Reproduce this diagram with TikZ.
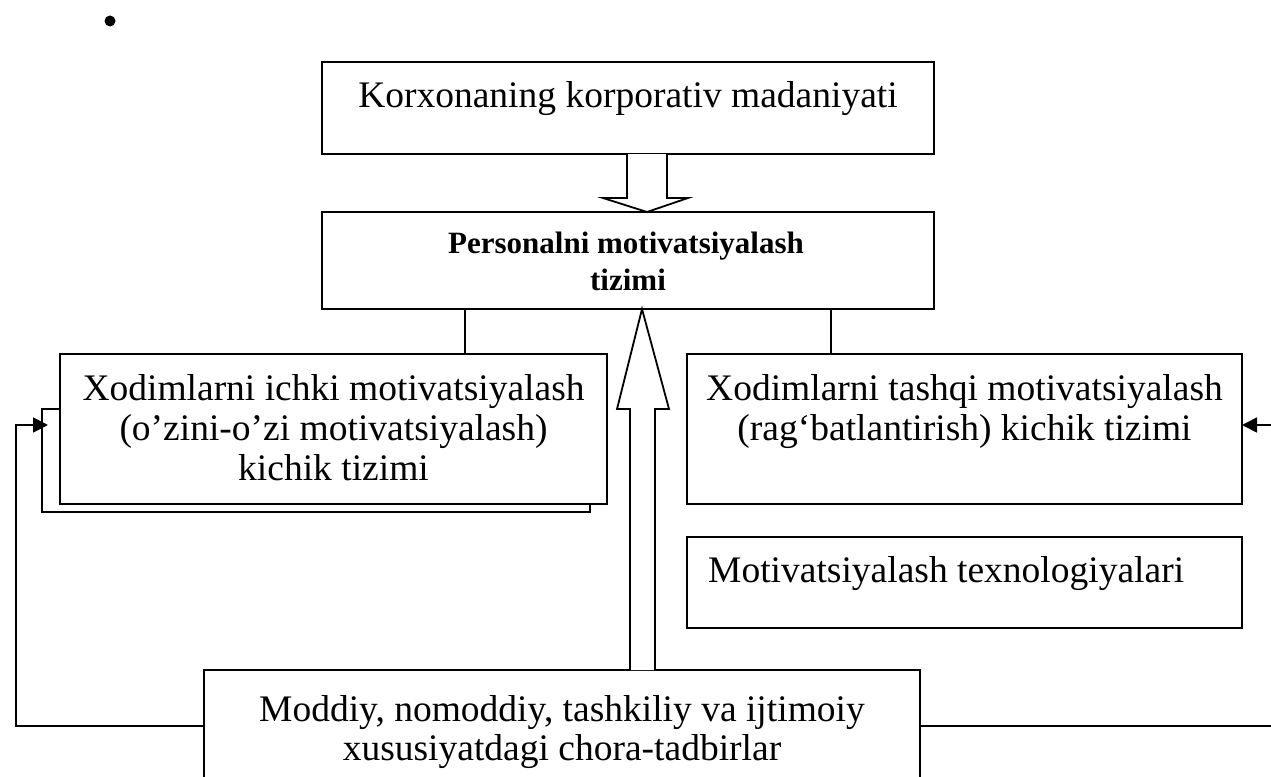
\documentclass[tikz,border=0pt]{standalone}
\usepackage{fontspec}
\setmainfont{Liberation Serif}
\usetikzlibrary{arrows.meta}
\begin{document}
\begin{tikzpicture}[x=1pt,y=-1pt,
  box/.style={draw,line width=1.8pt,fill=white,inner sep=0pt,outer sep=0pt},
  conn/.style={line width=1.8pt},
  flow/.style={line width=1.8pt,-{Triangle[length=15pt,width=15pt]}},
  blockarrow/.style={line width=1.8pt,fill=white,line join=miter},
  txt/.style={inner sep=0pt,anchor=base,font=\fontsize{37.5}{40}\selectfont},
  boldtxt/.style={inner sep=0pt,anchor=base,font=\fontsize{31}{34}\selectfont\bfseries}]
\useasboundingbox (0,0) rectangle (1271,776);
\clip (0,0) rectangle (1271,776);

% bullet mark
\node[circle,fill,inner sep=0pt,minimum size=11pt] (bullet) at (110,21) {};

% boxes
\node[box,minimum width=612pt,minimum height=92pt] (culture) at (628,108) {};
\node[box,minimum width=612pt,minimum height=97pt] (system) at (628,260.5) {};
\node[box,minimum width=548pt,minimum height=103pt] (innerback) at (316,460.5) {};
\node[box,minimum width=547pt,minimum height=150pt] (inner) at (333.5,429) {};
\node[box,minimum width=555pt,minimum height=150pt] (outer) at (964.5,429) {};
\node[box,minimum width=555pt,minimum height=91pt] (tech) at (964.5,582.5) {};
\node[box,minimum width=716pt,minimum height=130pt] (measures) at (562,735) {};

% texts
\node[txt] (t1) at (628,107) {Korxonaning korporativ madaniyati};
\node[boldtxt] (t2a) at (626,253) {Personalni motivatsiyalash};
\node[boldtxt] (t2b) at (628,290) {tizimi};
\node[txt] (t3a) at (333.5,400) {Xodimlarni ichki motivatsiyalash};
\node[txt] (t3b) at (333.5,440) {(o’zini-o’zi motivatsiyalash)};
\node[txt] (t3c) at (333.5,480) {kichik tizimi};
\node[txt] (t4a) at (964.5,400) {Xodimlarni tashqi motivatsiyalash};
\node[txt] (t4b) at (964.5,440) {(rag‘batlantirish) kichik tizimi};
\node[txt,anchor=base west] (t5) at (708,582) {Motivatsiyalash texnologiyalari};
\node[txt] (t6a) at (562,721) {Moddiy, nomoddiy, tashkiliy va ijtimoiy};
\node[txt] (t6b) at (562,760) {xususiyatdagi chora-tadbirlar};

% links from the system box to both subsystems
\coordinate (lx) at (465,0);
\coordinate (rx) at (831,0);
\draw[conn] (lx |- system.south) -- (lx |- inner.north);
\draw[conn] (rx |- system.south) -- (rx |- outer.north);

% block arrow: culture -> system
\draw[blockarrow] (627,154) -- (627,198) -- (603,198) -- (647,212)
  -- (688,198) -- (667,198) -- (667,154);

% block arrow: measures -> system
\draw[blockarrow] (630,670) -- (630,409) -- (617,409) -- (642,309)
  -- (669,409) -- (655,409) -- (655,670);

% feedback lines from the measures box
\coordinate (lc) at (16,726);
\coordinate (la) at (16,425);
\draw[flow,shorten >=-6pt] (lc -| measures.west) -- (lc) -- (la) -- (la -| innerback.west);
\coordinate (rc) at (1276,726);
\coordinate (ra) at (1276,425);
\draw[flow] (rc -| measures.east) -- (rc) -- (ra) -- (ra -| outer.east);
\end{tikzpicture}
\end{document}
